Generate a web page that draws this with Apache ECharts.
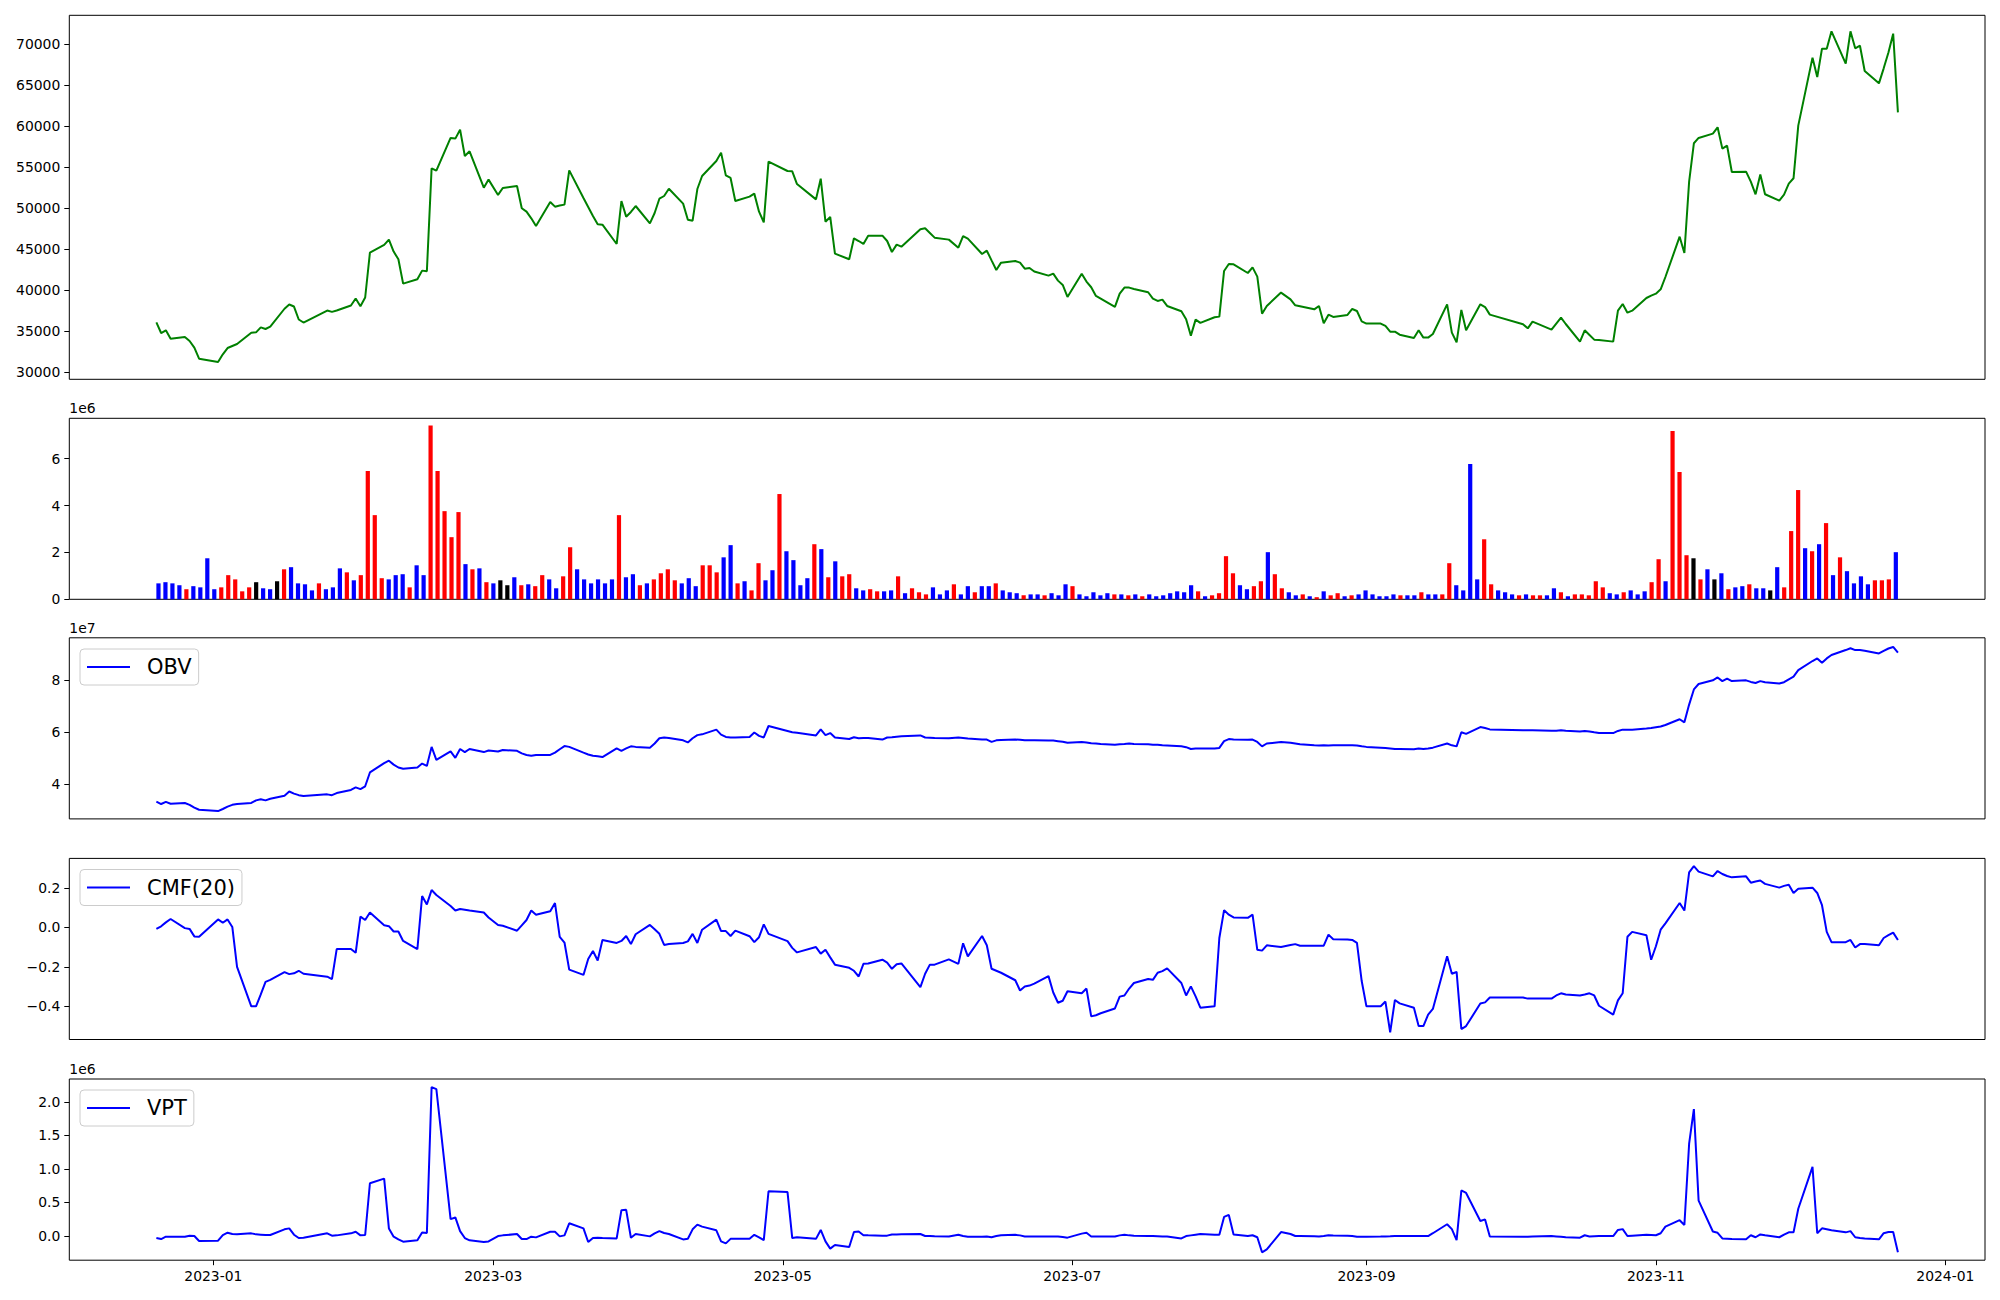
<!DOCTYPE html>
<html><head><meta charset="utf-8">
<script src="https://cdn.jsdelivr.net/npm/echarts@6/dist/echarts.min.js"></script>
<style>html,body{margin:0;padding:0;background:#fff}#c{width:2000px;height:1300px}</style>
</head><body><div id="c"></div>
<script>
// ---------- trading days ----------
const dates = [
"2022-12-20","2022-12-21","2022-12-22","2022-12-23","2022-12-26","2022-12-27","2022-12-28","2022-12-29",
"2023-01-02","2023-01-03","2023-01-04","2023-01-05","2023-01-06","2023-01-09","2023-01-10","2023-01-11","2023-01-12","2023-01-13","2023-01-16","2023-01-17","2023-01-18","2023-01-19","2023-01-20","2023-01-25","2023-01-26","2023-01-27","2023-01-30","2023-01-31",
"2023-02-01","2023-02-02","2023-02-03","2023-02-06","2023-02-07","2023-02-08","2023-02-09","2023-02-10","2023-02-13","2023-02-14","2023-02-15","2023-02-16","2023-02-17","2023-02-20","2023-02-21","2023-02-22","2023-02-23","2023-02-24","2023-02-27","2023-02-28",
"2023-03-02","2023-03-03","2023-03-06","2023-03-07","2023-03-08","2023-03-09","2023-03-10","2023-03-13","2023-03-14","2023-03-15","2023-03-16","2023-03-17","2023-03-20","2023-03-21","2023-03-22","2023-03-23","2023-03-24","2023-03-27","2023-03-28","2023-03-29","2023-03-30","2023-03-31",
"2023-04-03","2023-04-04","2023-04-05","2023-04-06","2023-04-07","2023-04-10","2023-04-11","2023-04-12","2023-04-13","2023-04-14","2023-04-17","2023-04-18","2023-04-19","2023-04-20","2023-04-21","2023-04-24","2023-04-25","2023-04-26","2023-04-27","2023-04-28",
"2023-05-02","2023-05-03","2023-05-04","2023-05-08","2023-05-09","2023-05-10","2023-05-11","2023-05-12","2023-05-15","2023-05-16","2023-05-17","2023-05-18","2023-05-19","2023-05-22","2023-05-23","2023-05-24","2023-05-25","2023-05-26","2023-05-30","2023-05-31",
"2023-06-01","2023-06-02","2023-06-05","2023-06-07","2023-06-08","2023-06-09","2023-06-12","2023-06-13","2023-06-14","2023-06-15","2023-06-16","2023-06-19","2023-06-20","2023-06-21","2023-06-22","2023-06-23","2023-06-26","2023-06-27","2023-06-28","2023-06-29","2023-06-30",
"2023-07-03","2023-07-04","2023-07-05","2023-07-06","2023-07-07","2023-07-10","2023-07-11","2023-07-12","2023-07-13","2023-07-14","2023-07-17","2023-07-18","2023-07-19","2023-07-20","2023-07-21","2023-07-24","2023-07-25","2023-07-26","2023-07-27","2023-07-28","2023-07-31",
"2023-08-01","2023-08-02","2023-08-03","2023-08-04","2023-08-07","2023-08-08","2023-08-09","2023-08-10","2023-08-11","2023-08-14","2023-08-16","2023-08-17","2023-08-18","2023-08-21","2023-08-22","2023-08-23","2023-08-24","2023-08-25","2023-08-28","2023-08-29","2023-08-30","2023-08-31",
"2023-09-01","2023-09-04","2023-09-05","2023-09-06","2023-09-07","2023-09-08","2023-09-11","2023-09-12","2023-09-13","2023-09-14","2023-09-15","2023-09-18","2023-09-19","2023-09-20","2023-09-21","2023-09-22","2023-09-25","2023-09-26","2023-09-27",
"2023-10-04","2023-10-05","2023-10-06","2023-10-10","2023-10-11","2023-10-12","2023-10-13","2023-10-16","2023-10-17","2023-10-18","2023-10-19","2023-10-20","2023-10-23","2023-10-24","2023-10-25","2023-10-26","2023-10-27","2023-10-30","2023-10-31",
"2023-11-01","2023-11-02","2023-11-03","2023-11-06","2023-11-07","2023-11-08","2023-11-09","2023-11-10","2023-11-13","2023-11-14","2023-11-15","2023-11-16","2023-11-17","2023-11-20","2023-11-21","2023-11-22","2023-11-23","2023-11-24","2023-11-27","2023-11-28","2023-11-29","2023-11-30",
"2023-12-01","2023-12-04","2023-12-05","2023-12-06","2023-12-07","2023-12-08","2023-12-11","2023-12-12","2023-12-13","2023-12-14","2023-12-15","2023-12-18","2023-12-19","2023-12-20","2023-12-21","2023-12-22"
];

// ---------- close price ----------
const closePrice = [
36090,34790,35120,34100,34300,33820,33000,31660,
31260,32190,32960,33210,33450,34830,34870,35480,35280,35570,37750,38270,38020,36440,36070,37530,37370,37530,38140,39000,
38060,39120,44590,45530,46180,44720,43780,40810,41340,42400,42320,54880,54590,58580,58500,59590,56380,56950,52520,53500,
51630,52480,52720,50000,49590,48780,47850,50770,50200,50330,50450,54630,51260,50160,49070,48050,48000,45650,50890,48980,49550,50280,
48170,49430,51170,51500,52390,50570,48610,48490,52350,53940,55770,56790,54020,53700,50890,51420,51790,49590,48290,55690,
54550,54510,52960,51090,53610,48370,48940,44470,43780,46340,46010,45650,46660,46660,46010,44670,45570,45320,47440,47560,
46990,46420,46180,45200,46620,46300,44430,44830,43650,42480,43370,43570,43370,42640,42720,42300,41790,42030,41180,40650,39190,
42030,41060,40370,39310,38980,37970,39590,40330,40330,40160,39760,38980,38700,38860,38090,37440,36460,34470,36420,36020,36710,
36790,42360,43210,43170,42110,42800,41670,37150,38090,39720,38900,38170,38050,37680,38090,35980,37030,36750,36990,37720,37480,36220,
35940,35940,35650,34960,34960,34590,34190,35120,34230,34230,34670,38290,34840,33660,37600,35120,38290,37960,37030,
35850,35360,36180,35200,35930,36660,35890,33740,35120,34550,33980,33940,33740,37520,38330,37270,37520,39060,39350,
39590,40120,41620,46540,44550,53250,57930,58580,59110,59880,57280,57640,54430,54470,53250,51710,54110,51710,50940,51670,53010,53660,
60080,68370,66010,69470,69470,71580,67640,71580,69510,69830,66750,65240,67070,69000,71300,61700
];

// ---------- volume (millions of shares) ----------
const volumeM = [
0.68,0.73,0.68,0.60,0.43,0.56,0.51,1.75,0.43,0.51,
1.03,0.85,0.34,0.51,0.73,0.47,0.43,0.77,1.28,1.37,
0.68,0.64,0.38,0.68,0.43,0.51,1.32,1.15,0.81,1.03,
5.47,3.59,0.90,0.85,1.03,1.07,0.51,1.45,1.03,7.41,
5.47,3.76,2.65,3.72,1.50,1.28,1.32,0.73,0.68,0.81,
0.60,0.94,0.60,0.64,0.56,1.03,0.85,0.47,0.98,2.22,
1.28,0.85,0.68,0.85,0.68,0.85,3.59,0.94,1.07,0.60,
0.68,0.85,1.11,1.28,0.81,0.68,0.90,0.56,1.45,1.45,
1.15,1.79,2.31,0.68,0.77,0.38,1.54,0.81,1.24,4.49,
2.05,1.67,0.60,0.90,2.35,2.14,0.94,1.62,0.98,1.07,
0.47,0.38,0.43,0.34,0.34,0.38,0.98,0.26,0.47,0.30,
0.21,0.51,0.21,0.38,0.64,0.21,0.56,0.30,0.56,0.56,
0.68,0.38,0.30,0.26,0.17,0.21,0.21,0.17,0.26,0.17,
0.64,0.56,0.21,0.13,0.30,0.17,0.26,0.21,0.21,0.17,
0.21,0.13,0.21,0.13,0.17,0.26,0.34,0.30,0.60,0.34,
0.13,0.17,0.26,1.84,1.11,0.60,0.43,0.56,0.77,2.01,
1.07,0.47,0.30,0.17,0.21,0.13,0.09,0.34,0.17,0.26,
0.13,0.17,0.21,0.38,0.21,0.13,0.13,0.21,0.17,0.17,
0.17,0.30,0.21,0.21,0.21,1.54,0.60,0.38,5.77,0.85,
2.56,0.64,0.38,0.30,0.21,0.17,0.21,0.17,0.17,0.17,
0.47,0.30,0.13,0.21,0.21,0.17,0.77,0.51,0.26,0.21,
0.30,0.38,0.21,0.34,0.73,1.71,0.77,7.18,5.43,1.88,
1.75,0.85,1.28,0.85,1.11,0.43,0.51,0.56,0.64,0.47,
0.47,0.38,1.37,0.51,2.91,4.66,2.18,2.05,2.35,3.25,
1.03,1.79,1.20,0.68,0.98,0.64,0.81,0.81,0.85,2.01
];
// candle direction per day: R = close above open, B = close below open, K = unchanged
const candleDir = (
"BBBBRBBBBR"+"RRRRKBBKRB"+"BBBRBBBRBR"+"RRRBBBRBBR"+"RRRRBRBRBK"+
"KBRBRRBBRR"+"BBBBBBRBBR"+"BRRRRBBBRR"+"RBBRBRRBBR"+"BBBBRBRBRR"+
"BBRRBBRBRR"+"RBBBRBBRBB"+"RBBBRBBRBB"+"BRBBBBBRBR"+"BRBBBBBBBR"+
"BRRRRBBRRB"+"RRBBRBRBRR"+"BRBBBBBBRB"+"BRBBRRBBBB"+"RRBBBRBRRB"+
"BRBRRRRRBB"+"RBBBRRBRRR"+"KRBKBRBBRB"+"BKBRRRBRBR"+"BRBBBBRRRB").split("");

// ---------- OBV (x1e7) ----------
const obv = [
3.33,3.24,3.32,3.25,3.28,3.21,3.10,3.02,
2.97,3.05,3.14,3.21,3.24,3.28,3.38,3.42,3.38,3.44,3.56,3.72,3.64,3.58,3.55,3.61,3.58,3.66,3.78,3.88,
3.81,3.92,4.45,4.81,4.90,4.75,4.64,4.59,4.64,4.79,4.70,5.43,4.93,5.26,5.01,5.35,5.23,5.35,5.23,5.29,
5.25,5.31,5.28,5.18,5.12,5.09,5.12,5.12,5.21,5.34,5.46,5.43,5.21,5.14,5.09,5.07,5.04,5.37,5.28,5.37,5.45,5.43,
5.40,5.56,5.76,5.79,5.77,5.68,5.60,5.76,5.88,5.91,6.09,5.90,5.81,5.79,5.79,5.81,5.98,5.85,5.79,6.23,
6.04,5.99,5.97,5.87,6.10,5.88,5.96,5.79,5.73,5.80,5.76,5.77,5.77,5.71,5.79,5.80,5.82,5.84,5.87,5.79,
5.78,5.77,5.76,5.79,5.77,5.75,5.71,5.71,5.62,5.68,5.69,5.71,5.70,5.68,5.68,5.68,5.67,5.67,5.65,5.63,5.59,
5.62,5.60,5.57,5.56,5.54,5.51,5.53,5.54,5.56,5.54,5.53,5.51,5.51,5.49,5.48,5.45,5.42,5.35,5.37,5.37,5.37,
5.39,5.65,5.73,5.71,5.70,5.71,5.62,5.45,5.56,5.62,5.59,5.56,5.53,5.49,5.48,5.49,5.48,5.49,5.49,5.49,5.48,5.45,
5.43,5.40,5.39,5.37,5.35,5.35,5.34,5.37,5.35,5.37,5.40,5.56,5.49,5.45,5.99,5.93,6.19,6.15,6.10,
6.07,6.07,6.07,6.05,6.05,6.07,6.05,6.02,6.04,6.02,5.99,5.96,5.96,6.04,6.09,6.09,6.09,6.13,6.15,
6.18,6.21,6.27,6.49,6.37,7.05,7.63,7.84,7.98,8.09,7.95,8.05,7.95,7.98,7.92,7.88,7.95,7.91,7.86,7.91,8.02,8.12,
8.37,8.72,8.82,8.65,8.82,8.95,9.14,9.21,9.14,9.14,9.11,9.01,9.11,9.20,9.26,9.04
];

// ---------- CMF(20) ----------
const cmf20 = [
-0.008,0.005,0.025,0.042,-0.004,-0.008,-0.046,-0.048,
0.04,0.023,0.04,0.002,-0.20,-0.40,-0.40,-0.34,-0.276,-0.266,-0.227,-0.237,-0.233,-0.22,-0.235,-0.25,-0.262,-0.11,
-0.11,-0.129,0.054,0.037,0.075,0.01,0.006,-0.021,-0.021,-0.069,-0.11,0.158,0.116,0.189,0.164,0.108,0.085,0.093,0.089,0.085,
0.075,0.05,0.012,0.008,-0.017,0.01,0.037,0.085,0.064,0.081,0.123,-0.048,-0.077,-0.214,-0.241,-0.16,-0.12,-0.168,-0.064,-0.079,-0.069,-0.044,
-0.085,-0.035,0.012,-0.01,-0.033,-0.089,-0.084,-0.079,-0.071,-0.033,-0.079,-0.012,0.039,-0.019,-0.019,-0.044,-0.017,-0.045,-0.075,-0.05,0.015,
-0.033,-0.07,-0.104,-0.127,-0.10,-0.133,-0.114,-0.152,-0.189,-0.205,-0.22,-0.249,-0.185,-0.183,-0.164,-0.179,-0.21,-0.187,-0.183,-0.303,
-0.235,-0.189,-0.189,-0.162,-0.185,-0.081,-0.147,-0.044,-0.091,-0.21,-0.22,-0.23,-0.268,-0.32,-0.30,-0.295,-0.285,-0.247,-0.33,-0.382,-0.372,
-0.324,-0.334,-0.31,-0.451,-0.445,-0.435,-0.411,-0.351,-0.345,-0.31,-0.282,-0.262,-0.266,-0.23,-0.222,-0.208,-0.282,-0.345,-0.299,-0.35,-0.407,
-0.40,-0.054,0.087,0.064,0.05,0.048,0.064,-0.114,-0.118,-0.091,-0.1,-0.09,-0.085,-0.093,-0.093,-0.093,-0.093,-0.037,-0.06,-0.062,-0.064,-0.079,-0.272,
-0.40,-0.40,-0.376,-0.532,-0.368,-0.385,-0.407,-0.50,-0.50,-0.442,-0.413,-0.147,-0.235,-0.226,-0.515,-0.50,-0.386,-0.38,-0.355,
-0.355,-0.361,-0.361,-0.361,-0.345,-0.334,-0.34,-0.345,-0.34,-0.334,-0.345,-0.397,-0.442,-0.37,-0.334,-0.048,-0.023,-0.04,-0.164,
-0.096,-0.012,0.02,0.123,0.085,0.278,0.31,0.282,0.258,0.285,0.27,0.26,0.253,0.258,0.226,0.232,0.237,0.22,0.201,0.21,0.216,0.174,
0.195,0.201,0.174,0.112,-0.023,-0.075,-0.075,-0.064,-0.102,-0.085,-0.085,-0.091,-0.054,-0.04,-0.027,-0.064
];

// ---------- VPT (x1e6) ----------
const vpt = [
-0.03,-0.045,-0.01,-0.01,-0.01,0.005,0.0,-0.074,
-0.069,0.015,0.05,0.03,0.025,0.04,0.025,0.02,0.015,0.015,0.10,0.114,0.02,-0.03,-0.025,0.04,0.005,0.01,0.04,0.064,
0.01,0.015,0.787,0.856,0.114,-0.01,-0.05,-0.084,-0.064,0.054,0.045,2.22,2.19,0.252,0.277,0.074,-0.03,-0.064,-0.089,-0.08,
0.0,0.01,0.03,-0.045,-0.045,-0.01,-0.02,0.064,0.064,-0.005,0.01,0.19,0.114,-0.089,-0.03,-0.025,-0.03,-0.035,0.386,0.391,-0.025,0.03,
-0.005,0.04,0.074,0.045,0.03,-0.05,-0.04,0.10,0.17,0.14,0.085,-0.079,-0.109,-0.042,-0.042,-0.042,0.018,-0.02,-0.06,0.667,
0.655,-0.03,-0.018,-0.042,0.091,-0.079,-0.188,-0.133,-0.164,0.06,0.067,0.012,0.01,0.006,0.006,0.024,0.024,0.027,0.03,0.0,
0.0,-0.003,-0.006,0.018,0.0,-0.012,-0.012,-0.006,-0.018,0.0,0.012,0.018,0.01,-0.006,-0.006,-0.006,-0.006,-0.006,-0.006,-0.015,-0.024,
0.036,0.048,-0.006,-0.006,-0.006,-0.006,0.01,0.018,0.01,0.005,0.0,0.0,-0.003,-0.006,-0.006,-0.036,0.0,0.01,0.02,0.03,0.018,
0.018,0.285,0.315,0.024,0.0,0.012,-0.018,-0.242,-0.2,0.06,0.03,0.0,0.0,-0.003,-0.006,0.0,0.012,0.008,0.004,0.0,-0.012,-0.012,
-0.01,-0.008,-0.005,-0.003,0.0,0.0,0.0,0.0,0.0,0.0,0.042,0.176,0.103,-0.06,0.679,0.642,0.224,0.248,-0.006,
-0.012,-0.01,-0.006,0.0,-0.006,-0.012,-0.018,-0.024,0.012,-0.006,-0.003,0.0,0.0,0.091,0.103,0.0,0.005,0.018,0.015,
0.012,0.042,0.14,0.236,0.164,1.376,1.891,0.527,0.067,0.048,-0.036,-0.04,-0.045,-0.048,0.012,-0.018,0.024,0.012,-0.018,0.02,0.055,0.055,
0.406,1.03,0.042,0.115,0.1,0.085,0.055,0.073,-0.018,-0.03,-0.035,-0.048,0.042,0.061,0.061,-0.242
];

// ---------- tick labels ----------
const priceTicks = [30000,35000,40000,45000,50000,55000,60000,65000,70000];
const volumeTicks = [0,2,4,6];
const obvTicks = [4,6,8];
const cmfTicks = [-0.4,-0.2,0.0,0.2];
const vptTicks = [0.0,0.5,1.0,1.5,2.0];
const monthTicks = ["2023-01-01","2023-03-01","2023-05-01","2023-07-01","2023-09-01","2023-11-01","2024-01-01"];

// ---------- helpers ----------
function ts(s){const p=s.split('-').map(Number);return Date.UTC(p[0],p[1]-1,p[2]);}
const t0 = ts(dates[0]), t1 = ts(dates[dates.length-1]);
const xMin = t0 - 0.05*(t1-t0), xMax = t1 + 0.05*(t1-t0);
const FONT = 'DejaVu Sans';
const minus = v => (v<0?'\u2212':'') + Math.abs(v).toFixed(1);
const dirColor = {R:'#ff0000', B:'#0000ff', K:'#000000'};
const monthTs = monthTicks.map(ts);

const gl = 69.3, gr = 15;
const gridDefs = [
  {top:15.3, height:364},
  {top:418.3, height:181},
  {top:637.8, height:181.1},
  {top:858.4, height:181.1},
  {top:1079, height:181.2}
];
const grid = gridDefs.map(g => ({left:gl, right:gr, top:g.top, height:g.height, show:true,
  borderColor:'#000', borderWidth:1, backgroundColor:'rgba(0,0,0,0)', containLabel:false}));

function dateAxis(gi, showLabels){
  return {type:'value', gridIndex:gi, min:xMin, max:xMax, scale:true, position:'bottom',
    axisLine:{show:false, onZero:false}, splitLine:{show:false},
    axisTick:{show:showLabels, customValues: monthTs, length:5, lineStyle:{color:'#000', width:1}},
    axisLabel:{show:showLabels, customValues: monthTs, margin:9, color:'#000', fontFamily:FONT, fontSize:13.9,
      formatter: v => {const d=new Date(v);return d.getUTCFullYear()+'-'+String(d.getUTCMonth()+1).padStart(2,'0');}}};
}
function valAxis(gi, range, ticks, fmt, offsetName){
  const ax = {type:'value', gridIndex:gi, min:range[0], max:range[1], scale:true, position:'left',
    axisLine:{show:false, onZero:false}, splitLine:{show:false},
    axisTick:{show:true, customValues:ticks, length:5, lineStyle:{color:'#000', width:1}},
    axisLabel:{customValues:ticks, margin:9, color:'#000', fontFamily:FONT, fontSize:13.9, formatter:fmt}};
  if (offsetName){
    ax.name = offsetName; ax.nameLocation = 'end'; ax.nameGap = 3;
    ax.nameTextStyle = {align:'left', verticalAlign:'bottom', color:'#000', fontFamily:FONT, fontSize:13.9};
  }
  return ax;
}

const xAxis = [
  dateAxis(0,false),
  {type:'value', gridIndex:1, min:-12.78, max:261.78, show:false, axisLine:{onZero:false}},
  dateAxis(2,false),
  dateAxis(3,false),
  dateAxis(4,true)
];
const yAxis = [
  valAxis(0,[29146,73537],priceTicks, v=>String(v)),
  valAxis(1,[0,7.72],volumeTicks, v=>String(v), '1e6'),
  valAxis(2,[2.67,9.61],obvTicks, v=>String(v), '1e7'),
  valAxis(3,[-0.568,0.349],cmfTicks, minus),
  valAxis(4,[-0.36,2.34],vptTicks, v=>v.toFixed(1), '1e6')
];

const lineSeries = (name, xi, data, color) => ({name, type:'line', xAxisIndex:xi, yAxisIndex:xi,
  data: dates.map((d,i)=>[ts(d), data[i]]), showSymbol:false, symbol:'none',
  lineStyle:{color, width:2}, itemStyle:{color}, emphasis:{disabled:true}, clip:true});

const series = [
  lineSeries('Close', 0, closePrice, '#008000'),
  {name:'Volume', type:'bar', xAxisIndex:1, yAxisIndex:1, barWidth:4.2,
    data: volumeM.map((v,i)=>[i,v]),
    itemStyle:{color: p => dirColor[candleDir[p.dataIndex]]}, emphasis:{disabled:true}},
  lineSeries('OBV', 2, obv, '#0000ff'),
  lineSeries('CMF(20)', 3, cmf20, '#0000ff'),
  lineSeries('VPT', 4, vpt, '#0000ff')
];

const legendBase = (name, top) => ({data:[name], left:80, top, orient:'horizontal', icon:'rect',
  itemWidth:43, itemHeight:2, padding:[6,7,6,7], backgroundColor:'rgba(255,255,255,0.8)',
  borderColor:'#cccccc', borderWidth:1, borderRadius:4, selectedMode:false,
  textStyle:{fontFamily:FONT, fontSize:21, color:'#000', lineHeight:24, padding:[0,0,0,12]}});

const chart = echarts.init(document.getElementById('c'), null, {renderer:'svg', width:2000, height:1300});
chart.setOption({
  animation:false,
  backgroundColor:'#ffffff',
  textStyle:{fontFamily:FONT},
  grid, xAxis, yAxis, series,
  legend:[legendBase('OBV',649), legendBase('CMF(20)',869.5), legendBase('VPT',1090)]
});
</script></body></html>
